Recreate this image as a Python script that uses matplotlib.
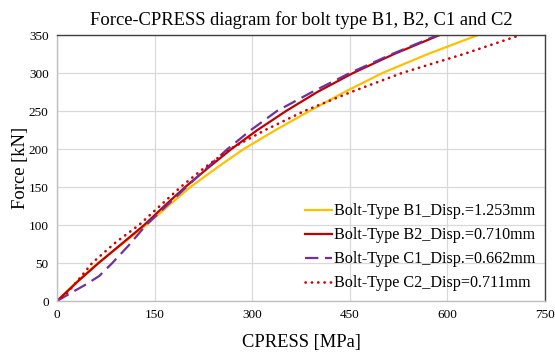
import matplotlib
matplotlib.use('Agg')
import matplotlib.pyplot as plt

plt.rcParams['font.family'] = ['Liberation Serif', 'DejaVu Serif']

# Datos (CPRESS [MPa], Fuerza [kN])
b1_x = [0, 30, 63, 100, 137, 171, 205, 245, 287, 336, 388, 442, 500, 570, 647]
b1_y = [0, 25, 50, 75, 100, 125, 150, 175, 200, 225, 250, 275, 300, 325, 350]

b2_x = [0, 31, 64, 99, 134, 165, 197, 232, 268, 308, 352, 400, 455, 518, 588]
b2_y = [0, 25, 50, 75, 100, 125, 150, 175, 200, 225, 250, 275, 300, 325, 350]

c1_x = [0, 20, 45, 65, 85, 110, 137, 168, 199, 230, 262, 298, 338, 392, 450, 515, 585]
c1_y = [0, 10, 22, 33, 50, 73, 100, 125, 150, 175, 200, 225, 250, 275, 300, 325, 350]

c2_x = [0, 15, 33, 54, 90, 126, 158, 190, 226, 266, 320, 380, 452, 530, 625, 712]
c2_y = [0, 10, 28, 50, 77, 100, 125, 150, 175, 200, 225, 250, 275, 300, 325, 350]

labels = ['Bolt-Type B1_Disp.=1.253mm', 'Bolt-Type B2_Disp.=0.710mm',
          'Bolt-Type C1_Disp.=0.662mm', 'Bolt-Type C2_Disp=0.711mm']

xticks = [0, 150, 300, 450, 600, 750]
yticks = [0, 50, 100, 150, 200, 250, 300, 350]

fig = plt.figure(figsize=(5.55, 3.54), dpi=100)
ax = fig.add_axes([0.1027, 0.1497, 0.8793, 0.7513])

ax.plot(b1_x, b1_y, color='#FFC000', lw=1.6, label=labels[0])
ax.plot(b2_x, b2_y, color='#C00000', lw=1.6, label=labels[1])
ax.plot(c1_x, c1_y, color='#7030A0', lw=1.6, dashes=(6, 3), label=labels[2])
ax.plot(c2_x, c2_y, color='#D00000', lw=1.9, linestyle=(0, (0.1, 2.3)),
        dash_capstyle='round', label=labels[3])

ax.set_xlim(0, 750)
ax.set_ylim(0, 350)
ax.set_xticks(xticks)
ax.set_yticks(yticks)
ax.tick_params(length=0, labelsize=9.5, pad=6)
ax.grid(color='#D9D9D9', lw=0.9)
ax.set_axisbelow(True)

for s in ['top', 'right']:
    ax.spines[s].set_color('#404040')
    ax.spines[s].set_linewidth(1.0)
for s in ['left', 'bottom']:
    ax.spines[s].set_color('#BFBFBF')
    ax.spines[s].set_linewidth(1.0)

ax.set_title('Force-CPRESS diagram for bolt type B1, B2, C1 and C2', fontsize=13.3, pad=7)
ax.set_xlabel('CPRESS [MPa]', fontsize=13.3, labelpad=9)
ax.set_ylabel('Force [kN]', fontsize=13.3, labelpad=0)

ax.legend(loc='lower right', frameon=False, fontsize=11.6, handlelength=1.7,
          handletextpad=0.1, labelspacing=0.5, borderaxespad=0.2,
          bbox_to_anchor=(1.0, 0.0))

fig.savefig('out.png', dpi=100)
